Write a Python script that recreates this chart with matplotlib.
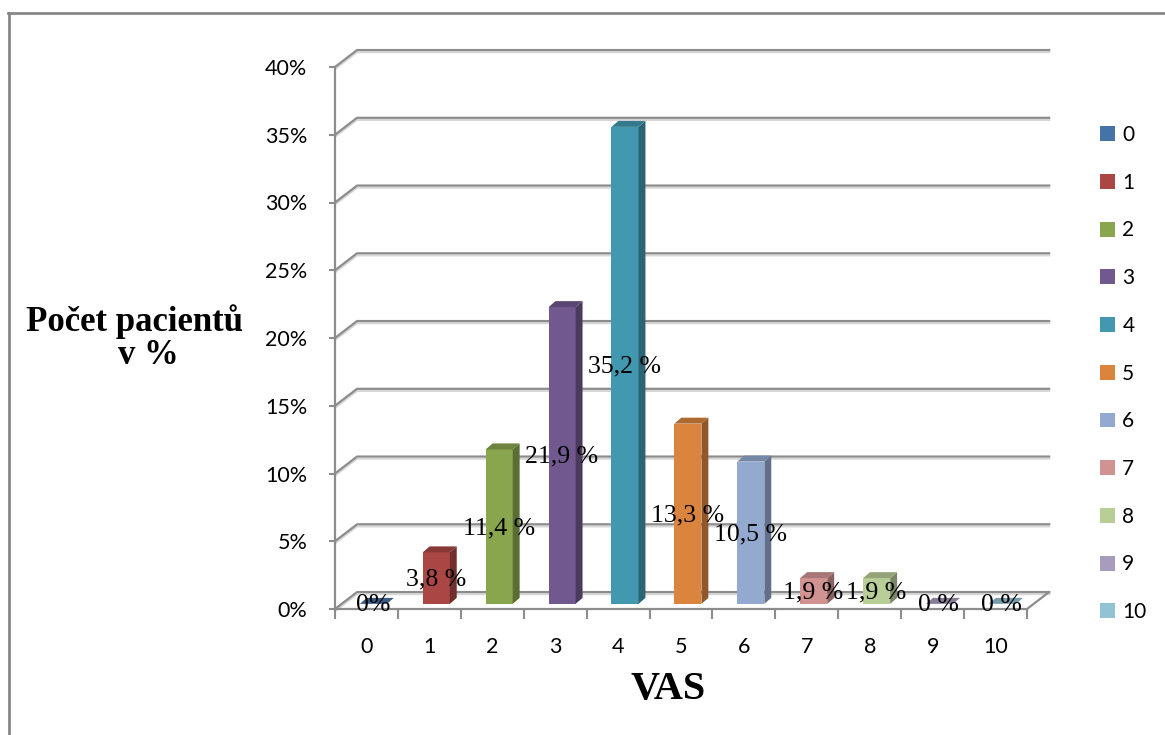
import matplotlib.pyplot as plt
import numpy as np
from matplotlib.colors import to_rgb
from matplotlib.lines import Line2D
from matplotlib.patches import Patch, Polygon

vas = ["0", "1", "2", "3", "4", "5", "6", "7", "8", "9", "10"]
patients_share = [0.0, 0.038, 0.114, 0.219, 0.352, 0.133, 0.105, 0.019, 0.019, 0.0, 0.0]
value_labels = ["0%", "3,8 %", "11,4 %", "21,9 %", "35,2 %", "13,3 %",
                "10,5 %", "1,9 %", "1,9 %", "0 %", "0 %"]
bar_colors = ["#4572A7", "#AA4643", "#89A54E", "#71588F", "#4198AF", "#DB843D",
              "#93A9CF", "#D19392", "#B9CD96", "#A99BBD", "#92C3D4"]
y_ticks = [0.0, 0.05, 0.10, 0.15, 0.20, 0.25, 0.30, 0.35, 0.40]

W, H = 1165, 735
GRID = "#8c8c8c"
TICK_FONT = "Lato"
SERIF = "Liberation Serif"

# pseudo-3D offsets, in data units
wall_dx, wall_dy = 0.35, 0.0125
bar_shift, bar_width, bar_base = 0.11, 0.43, 0.0038
bar_dx, bar_dy = 0.11, 0.0044


def shade(color, k):
    return tuple(c * k for c in to_rgb(color))


fig = plt.figure(figsize=(W / 100, H / 100), dpi=100)
ax = fig.add_axes([335 / W, 126 / H, 692 / W, 542 / H])
ax.set_xlim(-0.5, 10.5)
ax.set_ylim(0, 0.4)
ax.patch.set_visible(False)

# back wall gridlines with their side-wall diagonals
x0, x1 = -0.5, 10.5
for g in y_ticks:
    xs = [x0, x0 + wall_dx, x1 + wall_dx + 0.02]
    ys = [g, g + wall_dy, g + wall_dy]
    ax.plot(xs, np.array(ys) - 0.0016, color="#d6d6d6", lw=1.4,
            clip_on=False, zorder=1, solid_capstyle="butt")
    ax.plot(xs, ys, color=GRID, lw=1.6, clip_on=False, zorder=1.1,
            solid_capstyle="butt")
# right edge of the floor
ax.plot([x1, x1 + wall_dx], [0, wall_dy], color=GRID, lw=1.6,
        clip_on=False, zorder=1.1)

# columns: front face, side face, top face
xpos = np.arange(len(vas)) + bar_shift
ax.bar(xpos, patients_share, width=bar_width, bottom=bar_base,
       color=bar_colors, zorder=3, clip_on=False)
for xc, v, c in zip(xpos, patients_share, bar_colors):
    xl, xr = xc - bar_width / 2, xc + bar_width / 2
    top = bar_base + v
    side = Polygon([(xr, bar_base), (xr + bar_dx, bar_base + bar_dy),
                    (xr + bar_dx, top + bar_dy), (xr, top)],
                   closed=True, facecolor=shade(c, 0.66), edgecolor="none",
                   zorder=3, clip_on=False)
    cap = Polygon([(xl, top), (xl + bar_dx, top + bar_dy),
                   (xr + bar_dx, top + bar_dy), (xr, top)],
                  closed=True, facecolor=shade(c, 0.8), edgecolor="none",
                  zorder=3, clip_on=False)
    ax.add_patch(side)
    ax.add_patch(cap)

# data labels in the middle of each column
for i, (v, lab) in enumerate(zip(patients_share, value_labels)):
    ax.text(i + 0.1, bar_base + v / 2 - 0.001, lab, ha="center", va="center",
            fontfamily=SERIF, fontsize=18.5, zorder=5)

for s in ["top", "right"]:
    ax.spines[s].set_visible(False)
for s in ["left", "bottom"]:
    ax.spines[s].set_color(GRID)
    ax.spines[s].set_linewidth(1.6)

ax.set_yticks(y_ticks)
ax.set_yticklabels([f"{round(t * 100)}%" for t in y_ticks])
ax.tick_params(axis="y", direction="out", length=4, width=1.5, color=GRID,
               pad=16, labelsize=15.5)
ax.set_xticks(range(len(vas)))
ax.set_xticklabels(vas)
ax.set_xticks(np.arange(-0.5, len(vas)), minor=True)
ax.tick_params(axis="x", which="major", length=0, pad=20, labelsize=15.5)
ax.tick_params(axis="x", which="minor", direction="out", length=7, width=1.5,
               color=GRID)
for lab in ax.get_xticklabels() + ax.get_yticklabels():
    lab.set_fontfamily(TICK_FONT)

fig.text(135 / W, 1 - 322 / H, "Počet pacientů", ha="center", va="center",
         fontfamily=SERIF, fontweight="bold", fontsize=25)
fig.text(148 / W, 1 - 356 / H, "v %", ha="center", va="center",
         fontfamily=SERIF, fontweight="bold", fontsize=25)
fig.text(668 / W, 1 - 690 / H, "VAS", ha="center", va="center",
         fontfamily=SERIF, fontweight="bold", fontsize=29)

handles = [Patch(facecolor=c, edgecolor="none") for c in bar_colors]
fig.legend(handles, vas, loc="upper left",
           bbox_to_anchor=(1100 / W, 1 - 125 / H), frameon=False,
           prop={"family": TICK_FONT, "size": 15}, handlelength=0.72,
           handleheight=0.72, handletextpad=0.35, labelspacing=1.33,
           borderpad=0, borderaxespad=0)

# chart frame
fig.add_artist(Line2D([8.5 / W, 8.5 / W], [0, 1 - 13 / H], color="#888888",
                      lw=2, transform=fig.transFigure))
fig.add_artist(Line2D([7.5 / W, 1], [1 - 13 / H, 1 - 13 / H], color="#888888",
                      lw=2, transform=fig.transFigure))

fig.savefig("out.png", dpi=100)
